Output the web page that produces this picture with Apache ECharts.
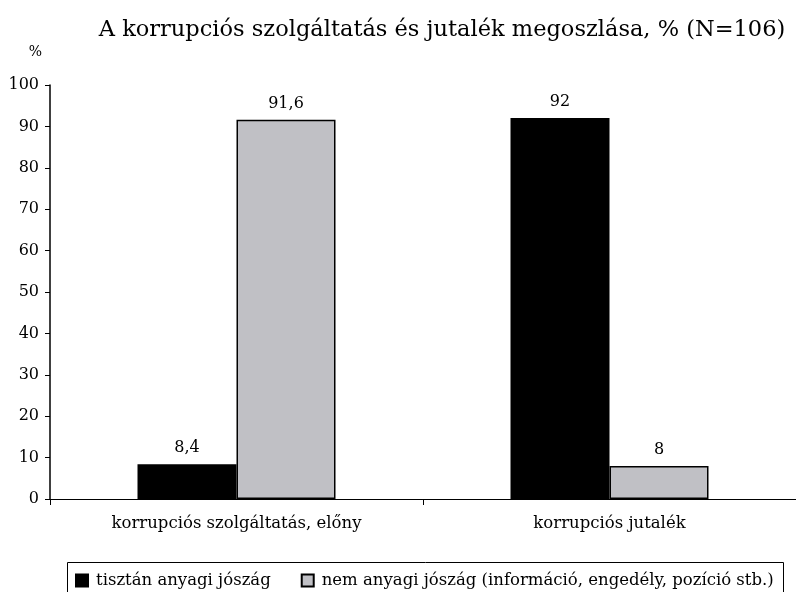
<!DOCTYPE html>
<html>
<head>
<meta charset="utf-8">
<script src="https://cdn.jsdelivr.net/npm/echarts@6/dist/echarts.min.js"></script>
<style>
  html, body { margin: 0; padding: 0; background: #fff; }
  #main { width: 796px; height: 592px; }
</style>
</head>
<body>
<div id="main"></div>
<script>
var categories = ['korrupciós szolgáltatás, előny', 'korrupciós jutalék'];
var seriesNames = ['tisztán anyagi jószág', 'nem anyagi jószág (információ, engedély, pozíció stb.)'];
var anyagi = [8.4, 92];
var nemAnyagi = [91.6, 8];

var dom = document.getElementById('main');
var myChart = echarts.init(dom, null, { renderer: 'canvas' });
var font = 'DejaVu Serif, serif';

function fmt(p) {
    return String(p.value).replace('.', ',');
}

var option = {
    animation: false,
    textStyle: { fontFamily: font, color: '#000' },
    title: {
        text: 'A korrupciós szolgáltatás és jutalék megoszlása, % (N=106)',
        left: 437,
        textAlign: 'center',
        top: 14,
        textStyle: { fontFamily: font, fontSize: 22.5, fontWeight: 'normal', color: '#000' }
    },
    graphic: [{
        type: 'rect',
        shape: { x: 67.5, y: 562.5, width: 716, height: 40 },
        style: { fill: 'none', stroke: '#000', lineWidth: 1 }
    }],
    legend: {
        data: seriesNames,
        left: 75,
        top: 572,
        padding: 0,
        itemWidth: 12,
        itemHeight: 12,
        itemGap: 30,
        icon: 'rect',
        textStyle: { fontFamily: font, fontSize: 16.5, color: '#000', padding: [0, 0, 0, 3] }
    },
    grid: {
        left: 50,
        top: 85,
        width: 748,
        height: 414
    },
    xAxis: {
        type: 'category',
        data: categories,
        axisLine: { lineStyle: { color: '#000', width: 1 } },
        axisTick: { show: true, length: 6, lineStyle: { color: '#000' } },
        axisLabel: { fontFamily: font, fontSize: 16.5, color: '#000', margin: 16 }
    },
    yAxis: {
        type: 'value',
        name: '%',
        nameLocation: 'end',
        nameGap: 26,
        nameTextStyle: { fontFamily: font, fontSize: 14, color: '#000', align: 'right', padding: [0, 8, 0, 0] },
        min: 0,
        max: 100,
        interval: 10,
        splitLine: { show: false },
        axisLine: { show: true, lineStyle: { color: '#000', width: 1.5 } },
        axisTick: { show: true, length: 5, lineStyle: { color: '#000' } },
        axisLabel: { fontFamily: font, fontSize: 16, color: '#000', margin: 11 }
    },
    series: [
        {
            name: seriesNames[0],
            type: 'bar',
            data: anyagi,
            barWidth: 99,
            barGap: '0%',
            itemStyle: { color: '#000000', borderColor: '#000', borderWidth: 1.5 },
            label: { show: true, position: 'top', distance: 8, formatter: fmt, fontFamily: font, fontSize: 16, color: '#000' }
        },
        {
            name: seriesNames[1],
            type: 'bar',
            data: nemAnyagi,
            barWidth: 99,
            itemStyle: { color: '#c0c0c5', borderColor: '#000', borderWidth: 1.5 },
            label: { show: true, position: 'top', distance: 8, formatter: fmt, fontFamily: font, fontSize: 16, color: '#000' }
        }
    ]
};

myChart.setOption(option);
window.addEventListener('resize', myChart.resize);
</script>
</body>
</html>
